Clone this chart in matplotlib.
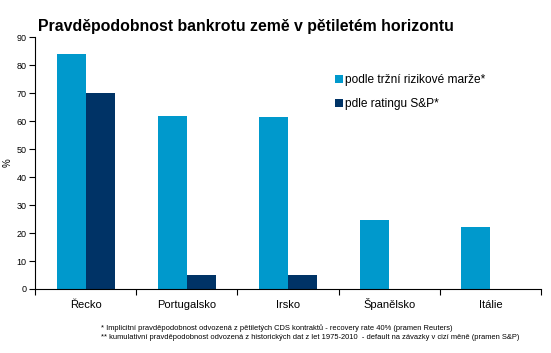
import matplotlib.pyplot as plt
import matplotlib.transforms as mtransforms
import numpy as np

plt.rcParams['font.family'] = ['Liberation Sans', 'DejaVu Sans']

countries = ['Řecko', 'Portugalsko', 'Irsko', 'Španělsko', 'Itálie']
market = [84, 62, 61.5, 24.5, 22.0]
rating = [70, 5, 5, 0, 0]
labels = ['podle tržní rizikové marže*', 'pdle ratingu S&P*']
notes = ['* Implicitní pravděpodobnost odvozená z pětiletých CDS kontraktů - recovery rate 40% (pramen Reuters)',
         '** kumulativní pravděpodobnost odvozená z historických dat z let 1975-2010  - default na závazky v cizí měně (pramen S&P)']

W, H = 551, 353
fig = plt.figure(figsize=(W / 100, H / 100), dpi=100)
ax = fig.add_axes([35 / W, 1 - 289 / H, 506 / W, 251.7 / H])

x = np.arange(len(countries))
w = 0.287
ax.bar(x - w / 2, market, w, color='#0099CC', label=labels[0])
ax.bar(x + w / 2, rating, w, color='#003366', label=labels[1])

ax.set_xlim(-0.5, len(countries) - 0.5)
ax.set_ylim(0, 90)
ax.set_yticks(range(0, 91, 10))
ax.tick_params(axis='y', labelsize=6.5, length=4, width=0.8, pad=2)
ax.set_xticks(np.arange(-0.5, len(countries), 1))
ax.set_xticklabels([])
ax.tick_params(axis='x', length=4, width=0.8)
for s in ['top', 'right']:
    ax.spines[s].set_visible(False)
for s in ['left', 'bottom']:
    ax.spines[s].set_linewidth(0.8)

# category names, aligned on a common baseline
trans = mtransforms.blended_transform_factory(ax.transData, ax.transAxes)
for xi, name in zip(x, countries):
    ax.text(xi, -19 / 251.7, name, transform=trans, ha='center', va='baseline', fontsize=8)

fig.text(8 / W, 1 - 163 / H, '%', rotation=90, fontsize=7, ha='center', va='center')

fig.text(38 / W, 1 - 30.5 / H, 'Pravděpodobnost bankrotu země v pětiletém horizontu',
         fontsize=11.4, fontweight='bold', va='baseline')

ax.legend(loc='upper left', bbox_to_anchor=(335 / W, 1 - 74 / H), bbox_transform=fig.transFigure,
          frameon=False, fontsize=8.6, handlelength=0.7, handleheight=0.7, handletextpad=0.15,
          labelspacing=1.0, borderpad=0, borderaxespad=0)

fig.text(100.7 / W, 1 - 327.7 / H, notes[0], fontsize=5.4, ha='left', va='center')
fig.text(100.7 / W, 1 - 337.3 / H, notes[1], fontsize=5.4, ha='left', va='center')

fig.savefig('out.png', dpi=100)
